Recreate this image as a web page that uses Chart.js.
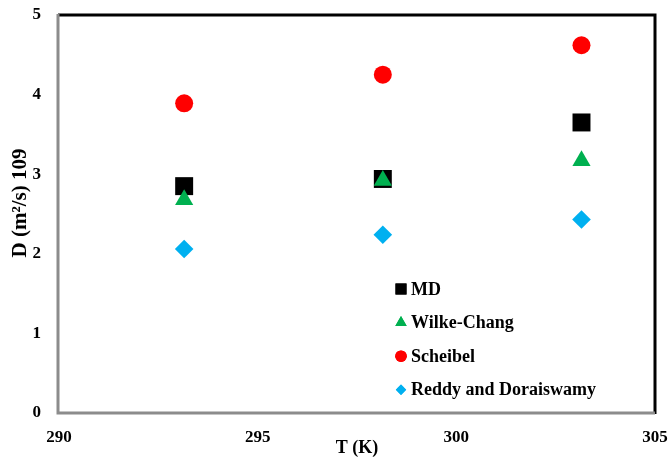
<!DOCTYPE html>
<html lang="en">
<head>
  <meta charset="UTF-8">
  <title>Diffusion coefficient vs temperature</title>
  <style>
    body {
      margin: 0;
      background-color: #fff;
    }
    .container {
      position: relative;
      width: 669px;
      height: 459px;
    }
  </style>
  <script src="https://cdn.jsdelivr.net/npm/chart.js"></script>
</head>
<body>
  <div class="container">
    <canvas id="diffChart" width="669" height="459"></canvas>
  </div>
  <script>
    // Temperatures (K) and diffusion coefficients D x 10^9 (m2/s)
    const temps = [293.15, 298.15, 303.15];
    const mdValues = [2.85, 2.94, 3.65];
    const wilkeChangValues = [2.68, 2.92, 3.17];
    const scheibelValues = [3.89, 4.25, 4.62];
    const reddyValues = [2.06, 2.24, 2.43];
    const xTicks = [290, 295, 300, 305];
    const yTicks = [0, 1, 2, 3, 4, 5];
    const yTitle = 'D (m²/s) 109';

    const serif = "'Liberation Serif', 'Times New Roman', serif";

    function toPoints(values) {
      return temps.map((t, i) => ({ x: t, y: values[i] }));
    }

    // Plot frame: gray left/bottom, black top/right
    const framePlugin = {
      id: 'frame',
      afterDraw(chart) {
        const { ctx, chartArea: a } = chart;
        ctx.save();
        ctx.lineWidth = 3;
        ctx.strokeStyle = '#000';
        ctx.beginPath();
        ctx.moveTo(a.left - 1, a.top);
        ctx.lineTo(a.right, a.top);
        ctx.lineTo(a.right, a.bottom + 1);
        ctx.stroke();
        ctx.strokeStyle = '#8c8c8c';
        ctx.beginPath();
        ctx.moveTo(a.left - 1, a.top - 1);
        ctx.lineTo(a.left - 1, a.bottom);
        ctx.lineTo(a.right, a.bottom);
        ctx.stroke();
        ctx.restore();
      }
    };

    // y axis title, sits a bit above the middle of the axis
    const yTitlePlugin = {
      id: 'yTitle',
      afterDraw(chart) {
        const { ctx } = chart;
        ctx.save();
        ctx.translate(21, 203);
        ctx.rotate(-Math.PI / 2);
        ctx.font = 'bold 21px ' + serif;
        ctx.textAlign = 'center';
        ctx.textBaseline = 'middle';
        ctx.fillStyle = '#000';
        ctx.fillText(yTitle, 0, 0);
        ctx.restore();
      }
    };

    // Legend drawn inside the plot area
    const innerLegend = {
      id: 'innerLegend',
      afterDraw(chart) {
        const { ctx } = chart;
        const x0 = 401, y0 = 289, rowGap = 33.6;
        const radii = [7.8, 6.6, 5.8, 5.2];
        ctx.save();
        ctx.font = 'bold 18px ' + serif;
        ctx.textBaseline = 'middle';
        chart.data.datasets.forEach((ds, i) => {
          const y = y0 + i * rowGap;
          ctx.fillStyle = ds.backgroundColor;
          Chart.helpers.drawPoint(ctx, { pointStyle: ds.pointStyle, radius: radii[i], rotation: 0, borderWidth: 0 }, x0, y);
          ctx.fill();
          ctx.fillStyle = '#000';
          ctx.fillText(ds.label, x0 + 10, y + 1);
        });
        ctx.restore();
      }
    };

    // higher "order" is drawn first, so later series end up on top
    new Chart(document.getElementById('diffChart'), {
      type: 'scatter',
      data: {
        datasets: [
          { label: 'MD', order: 4, data: toPoints(mdValues), pointStyle: 'rect', pointRadius: 12.7, backgroundColor: '#000000', borderColor: '#000000', borderWidth: 0 },
          { label: 'Wilke-Chang', order: 3, data: toPoints(wilkeChangValues), pointStyle: 'triangle', pointRadius: 10.5, backgroundColor: '#00B050', borderColor: '#00B050', borderWidth: 0 },
          { label: 'Scheibel', order: 2, data: toPoints(scheibelValues), pointStyle: 'circle', pointRadius: 9, backgroundColor: '#FF0000', borderColor: '#FF0000', borderWidth: 0 },
          { label: 'Reddy and Doraiswamy', order: 1, data: toPoints(reddyValues), pointStyle: 'rectRot', pointRadius: 9.3, backgroundColor: '#00B0F0', borderColor: '#00B0F0', borderWidth: 0 }
        ]
      },
      options: {
        responsive: false,
        animation: false,
        layout: { padding: { top: 15, right: 14, left: 0, bottom: 0 } },
        plugins: {
          legend: { display: false },
          tooltip: { enabled: false }
        },
        scales: {
          x: {
            type: 'linear',
            min: 290,
            max: 305,
            afterBuildTicks: (scale) => { scale.ticks = xTicks.map(v => ({ value: v })); },
            afterFit: (scale) => {
              scale.height = 46;
              scale.paddingLeft = 0;
              scale.paddingRight = 0;
            },
            grid: { display: false, drawTicks: false },
            border: { display: false },
            ticks: { padding: 14, color: '#000', font: { family: serif, size: 17, weight: 'bold' }, maxRotation: 0 },
            title: { display: true, text: 'T (K)', color: '#000', padding: { top: 0, bottom: 0 }, font: { family: serif, size: 18, weight: 'bold' } }
          },
          y: {
            min: 0,
            max: 5,
            afterBuildTicks: (scale) => { scale.ticks = yTicks.map(v => ({ value: v })); },
            afterFit: (scale) => {
              scale.width = 59;
              scale.paddingTop = 0;
              scale.paddingBottom = 0;
            },
            grid: { display: false, drawTicks: false },
            border: { display: false },
            ticks: { padding: 18, color: '#000', font: { family: serif, size: 17, weight: 'bold' } }
          }
        }
      },
      plugins: [framePlugin, yTitlePlugin, innerLegend]
    });
  </script>
</body>
</html>
